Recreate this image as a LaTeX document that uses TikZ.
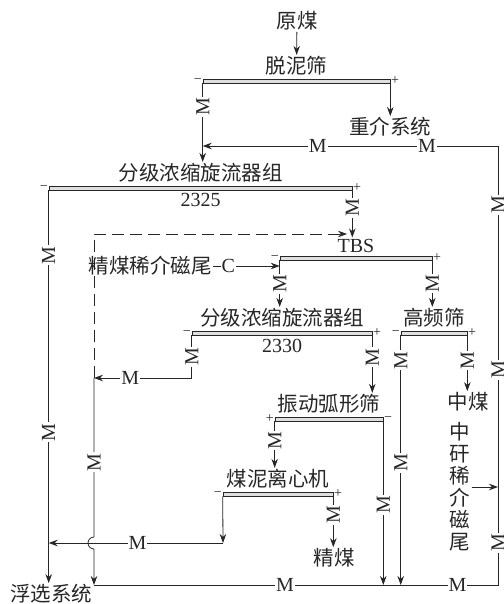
\documentclass[tikz,border=0pt]{standalone}
\usepackage{fontspec}
\setmainfont{Liberation Serif}
\newfontfamily\cjk{Noto Sans CJK SC}
\usetikzlibrary{arrows.meta,positioning}

\begin{document}
\begin{tikzpicture}[x=1pt,y=-1pt,>={Stealth[length=9pt,width=6.5pt]},
  color=black!85,line width=0.8pt,
  bar/.style={draw,fill=gray!25,minimum height=4pt,inner sep=0pt,line width=0.6pt},
  txt/.style={font=\cjk\fontsize{20.5}{22}\selectfont,inner sep=1pt},
  num/.style={font=\fontsize{20}{20}\selectfont,inner sep=1pt},
  mh/.style={num,fill=white},
  mv/.style={mh,rotate=90},
  sgn/.style={font=\fontsize{14}{14}\selectfont,inner sep=0.5pt},
  dsh/.style={dash pattern=on 12pt off 6pt}]
  \useasboundingbox (0,0) rectangle (503,604);
  % equipment
  \node[bar,minimum width=187pt,label={[sgn]left:−},label={[sgn]right:+}] (tns) at (296.5,81) {};
  \node[bar,minimum width=303pt,label={[sgn]left:−},label={[sgn]right:+}] (fj1) at (200.5,188) {};
  \node[bar,minimum width=152pt,label={[sgn]left:−},label={[sgn]right:+}] (tbs) at (356,258) {};
  \node[bar,minimum width=180pt,label={[sgn]left:−},label={[sgn]right:+}] (fj2) at (282,333) {};
  \node[bar,minimum width=66pt,label={[sgn]left:−},label={[sgn]right:+}] (gps) at (434,333) {};
  \node[bar,minimum width=108pt,label={[sgn]left:+},label={[sgn]right:−}] (zdh) at (329,419) {};
  \node[bar,minimum width=110pt,label={[sgn]left:−},label={[sgn]right:+}] (lxj) at (278,494) {};
  % names
  \node[txt] (ym) at (297,21) {原煤};
  \node[txt,above=2pt of tns] (tnsl) {脱泥筛};
  \node[txt] (zjxt) at (390,127) {重介系统};
  \node[txt,above=2pt of fj1] (fj1l) {分级浓缩旋流器组};
  \node[num,below=2pt of fj1] (fj1n) {2325};
  \node[num,above=2pt of tbs] (tbsl) {TBS};
  \node[txt] (jmx) at (150,266) {精煤稀介磁尾};
  \node[txt,above=2pt of fj2] (fj2l) {分级浓缩旋流器组};
  \node[num,below=2pt of fj2] (fj2n) {2330};
  \node[txt,above=2pt of gps] (gpsl) {高频筛};
  \node[txt] (zm) at (468,402) {中煤};
  \node[txt,above=2pt of zdh] (zdhl) {振动弧形筛};
  \node[txt,align=center] (zgx) at (460,487) {中\\矸\\稀\\介\\磁\\尾};
  \node[txt,above=2pt of lxj] (lxjl) {煤泥离心机};
  \node[txt] (jm) at (334,558) {精煤};
  \node[txt] (fx) at (51,594) {浮选系统};
  \coordinate (re) at (498,146);
  \coordinate (rb) at (498,585);
  \coordinate (lb) at (94,585);
  \coordinate (jn) at (94,378);
  \coordinate (jt) at (94,537);
  \coordinate (hm) at (223,543);
  \coordinate (tin) at (347,234);
  % flows
  \draw[->] (ym) -- (tnsl);
  \draw[->] (tns.south west) -- node[mv,pos=0.3]{M} (tns.south west |- fj1l.north);
  \draw[->] (tns.south east) -- (tns.south east |- zjxt.north);
  \draw[<-] (tns.south west |- re) -- node[mh,pos=0.39]{M} node[mh,pos=0.76]{M} (re)
    -- node[mv,pos=0.134]{M} node[mv,pos=0.51]{M} node[mv,pos=0.904]{M} (rb)
    -- node[mh,pos=0.1]{M} node[mh,pos=0.527]{M} (lb);
  \draw[->] (fj1.south west) -- node[mv,pos=0.165]{M} node[mv,pos=0.616]{M} (fj1.south west |- fx.north);
  \draw[->] (fj1.south east) -- node[mv,pos=0.37]{M} (fj1.south east |- tbsl.north);
  \draw[dsh,->] (jn) |- (tin);
  \draw[->] (jmx.east) -- node[mh,pos=0.23]{C} (jmx.east -| tbs.south west);
  \draw[->] (tbs.south west) -- node[mv,pos=0.5]{M} (tbs.south west |- fj2l.north);
  \draw[->] (tbs.south east) -- node[mv,pos=0.5]{M} (tbs.south east |- gpsl.north);
  \draw[->] (fj2.south west) -- node[mv]{M} (fj2.south west |- jn) -- node[mh,pos=0.63]{M} (jn);
  \draw[->] (jn) -- node[mv,pos=0.53]{M} (jt) arc[start angle=270,end angle=90,radius=6] -- (lb);
  \draw[->] (fj2.south east) -- node[mv,pos=0.38]{M} (fj2.south east |- zdhl.north);
  \draw[->] (gps.south west) -- node[mv,pos=0.1]{M} node[mv,pos=0.51]{M} (gps.south west |- lb);
  \draw[->] (gps.south east) -- node[mv,pos=0.45]{M} (gps.south east |- zm.north);
  \draw[->] (zdh.south east) -- node[mv,pos=0.51]{M} (zdh.south east |- lb);
  \draw[->] (zdh.south west) -- node[mv,pos=0.41]{M} (zdh.south west |- lxjl.north);
  \draw[->] (lxj.south east) -- node[mv,pos=0.36]{M} (lxj.south east |- jm.north);
  \draw[->] (lxj.south west) -- (hm);
  \draw[->] (hm) -- node[mh,pos=0.49]{M} (hm -| fj1.south west);
  \draw[->] (zgx.east) -- (zgx.east -| rb);
\end{tikzpicture}
\end{document}
